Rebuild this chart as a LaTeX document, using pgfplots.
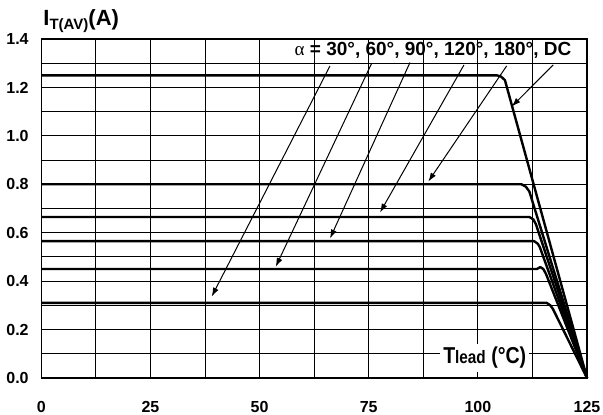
\documentclass[border=0pt]{standalone}
\usepackage{pgfplots}
\pgfplotsset{compat=1.18}
\usepackage{fontspec}
\setmainfont{Liberation Sans}
\newfontfamily\greekserif{Liberation Serif}
\newfontfamily\narrowsans[FakeStretch=0.85]{Liberation Sans}
\usetikzlibrary{arrows.meta}

\begin{document}
\begin{tikzpicture}
\useasboundingbox (-20.65pt,-18pt) rectangle (280.85pt,189pt);
\begin{axis}[
  at={(0,0)}, anchor=south west,
  scale only axis,
  width=272.85pt, height=169.5pt,
  xmin=0, xmax=125, ymin=0, ymax=1.4,
  xtick={0,25,50,75,100,125},
  minor xtick={12.5,37.5,62.5,87.5,112.5},
  ytick={0,0.2,0.4,0.6,0.8,1.0,1.2,1.4},
  minor ytick={0.1,0.3,0.5,0.7,0.9,1.1,1.3},
  grid=both,
  major grid style={black, line width=0.5pt},
  minor grid style={black, line width=0.5pt},
  tick style={draw=none},
  axis line style={black, line width=0.7pt},
  clip=false,
  /pgf/number format/assume math mode=true,
  ticklabel style={font=\fontsize{8}{9}\selectfont\bfseries},
  xticklabel style={anchor=north, yshift=-8.3pt},
  yticklabel style={xshift=-2.8pt,
    /pgf/number format/.cd, fixed, fixed zerofill, precision=1},
  curve/.style={black, no markers, solid, line width=1.2pt, line join=round},
  leader/.style={black, no markers, solid, line width=0.5pt, -{Latex[length=4.5pt,width=3pt]}},
]

% temperature label with white box over the grid
\node[anchor=base west, fill=white, inner sep=1.5pt] at (axis cs:91.3,0.058)
  {\narrowsans\bfseries\fontsize{11.5}{12}\selectfont T{\fontsize{9}{10}\selectfont lead} (°C)};

% derating curves: DC, 180, 120, 90, 60, 30 degrees conduction angle
\addplot[curve] coordinates {(0,1.25) (104.3,1.25) (105.3,1.245) (106.2,1.23) (125,0)};
\addplot[curve] coordinates {(0,0.80) (110.0,0.80) (111.0,0.79) (111.8,0.77) (125,0)};
\addplot[curve] coordinates {(0,0.665) (111.8,0.665) (112.7,0.655) (113.3,0.635) (125,0)};
\addplot[curve] coordinates {(0,0.565) (112.9,0.565) (113.7,0.555) (114.2,0.54) (125,0)};
\addplot[curve] coordinates {(0,0.45) (113.5,0.45) (114.3,0.458) (115.0,0.45) (115.6,0.43) (125,0)};
\addplot[curve] coordinates {(0,0.31) (115.8,0.31) (116.6,0.30) (117.2,0.285) (125,0)};

% leader arrows from the angle list to each curve
\addplot[leader] coordinates {(66.13,1.289) (39.03,0.336)};
\addplot[leader] coordinates {(75.68,1.300) (53.69,0.459)};
\addplot[leader] coordinates {(84.45,1.303) (66.13,0.576)};
\addplot[leader] coordinates {(96.82,1.293) (77.58,0.683)};
\addplot[leader] coordinates {(106.60,1.289) (88.64,0.811)};
\addplot[leader] coordinates {(117.27,1.293) (107.74,1.121)};

\node[anchor=base east, inner sep=0] at (axis cs:121.5,1.33)
  {\fontsize{9.5}{12}\selectfont{\greekserif α} \bfseries= 30°, 60°, 90°, 120°, 180°, DC};

\node[anchor=base west, inner sep=0] at (axis cs:0.4,1.455)
  {\fontsize{11}{12}\selectfont\bfseries I\raisebox{-1.7pt}{\fontsize{7.5}{8}\selectfont T(AV)}(A)};
\end{axis}
\end{tikzpicture}
\end{document}
